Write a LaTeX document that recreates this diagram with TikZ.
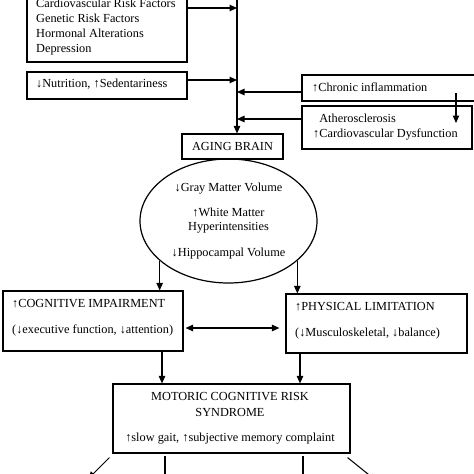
\documentclass[tikz,border=0pt]{standalone}
\usepackage{fontspec}
\setmainfont{Liberation Serif}
\usetikzlibrary{arrows.meta,shapes.geometric}
\begin{document}
\begin{tikzpicture}[x=1pt,y=-1pt,
  box/.style={draw, line width=1.2pt, rectangle, inner sep=0pt},
  txt/.style={inner sep=0pt, align=left, font=\fontsize{12.3}{14.67}\selectfont},
  ctxt/.style={inner sep=0pt, align=center, font=\fontsize{12.3}{14.67}\selectfont},
  conn/.style={line width=1.05pt},
  arr/.style={conn, -{Triangle[length=7.5pt,width=6.5pt]}},
  darr/.style={conn, {Triangle[length=7.5pt,width=6.5pt]}-{Triangle[length=7.5pt,width=6.5pt]}},
  ]
\useasboundingbox (0,0) rectangle (474,474);
\clip (0,0) rectangle (474,474);
\fill[white] (0,0) rectangle (474,474);

% left input boxes
\node[box, minimum width=160pt, minimum height=92pt] (risk) at (107,16) {};
\node[txt, anchor=base west] (risktxt) at (36,52) {Cardiovascular Risk Factors\\Genetic Risk Factors\\Hormonal Alterations\\Depression};
\node[box, minimum width=160pt, minimum height=27pt] (nut) at (107,85.5) {};
\node[txt, anchor=base west] (nuttxt) at (36,87) {↓Nutrition, ↑Sedentariness};

% right input boxes
\node[box, minimum width=178pt, minimum height=26pt] (chron) at (391,88) {};
\node[txt, anchor=base west] (chrontxt) at (312,91) {↑Chronic inflammation};
\node[box, minimum width=170pt, minimum height=43pt] (ath) at (387,127.5) {};
\node[txt, anchor=base west, font=\fontsize{12.3}{15}\selectfont] (athtxt) at (313,137) {\phantom{↑}Atherosclerosis\\↑Cardiovascular Dysfunction};

% aging brain
\node[box, minimum width=101pt, minimum height=25pt, font=\fontsize{12.3}{14.67}\selectfont] (brain) at (232.5,146.5) {AGING BRAIN};
\node[draw, ellipse, line width=1.2pt, minimum width=177pt, minimum height=124pt, inner sep=0pt, align=center, font=\fontsize{12.3}{14.67}\selectfont] (ell) at (228.5,221) {↓Gray Matter Volume\\[10.3pt]↑White Matter\\Hyperintensities\\[11.3pt]↓Hippocampal Volume};

% cognitive / physical
\node[box, minimum width=180pt, minimum height=60pt] (cog) at (93,321) {};
\node[txt, anchor=base west] (cogtxt) at (12,333) {↑COGNITIVE IMPAIRMENT\\[11.3pt](↓executive function, ↓attention)};
\node[box, minimum width=181pt, minimum height=59pt] (phys) at (376.5,323.5) {};
\node[txt, anchor=base west] (phystxt) at (295,336) {↑PHYSICAL LIMITATION\\[11.3pt](↓Musculoskeletal, ↓balance)};

% MCR
\node[box, minimum width=237pt, minimum height=69pt] (mcr) at (231.5,418.5) {};
\node[ctxt, anchor=base] (mcrtxt) at (230,441) {MOTORIC COGNITIVE RISK\\[1.3pt]SYNDROME\\[10.3pt]↑slow gait, ↑subjective memory complaint};

% connectors
\coordinate (spine) at (237,-10);
\draw[arr] (spine) -- (spine |- brain.north);
\draw[arr] (risk.east |- 0,8) -- (spine |- 0,8);
\draw[arr] (nut.east |- 0,80) -- (spine |- 0,80);
\draw[arr] (chron.west |- 0,92) -- (spine |- 0,92);
\draw[arr] (ath.west |- 0,119) -- (spine |- 0,119);
\coordinate (ca) at (456,93);
\coordinate (cb) at (456,123);
\draw[arr] (ca) -- (cb);

\draw[arr] (ell.210.5) -- (ell.210.5 |- cog.north);
\draw[arr] (ell.-30) -- (ell.-30 |- phys.north);
\draw[darr] ([xshift=2pt]cog.east |- 0,328) -- ([xshift=-6pt]phys.west |- 0,328);

\coordinate (lx) at (162,0);
\coordinate (rx) at (300,0);
\draw[arr] (lx |- cog.south) -- (lx |- mcr.north);
\draw[arr] (rx |- phys.south) -- (rx |- mcr.north);

\coordinate (o1) at (88,479);
\coordinate (o2) at (165,484);
\coordinate (o3) at (303,484);
\coordinate (o4) at (376.6,481);
\draw[arr] ([shift={(-3pt,-4pt)}]mcr.south west) -- (o1);
\draw[arr] (o2 |- 0,456) -- (o2);
\draw[arr] (o3 |- 0,456) -- (o3);
\draw[arr] ([shift={(-3pt,-4pt)}]mcr.south east) -- (o4);
\end{tikzpicture}
\end{document}
